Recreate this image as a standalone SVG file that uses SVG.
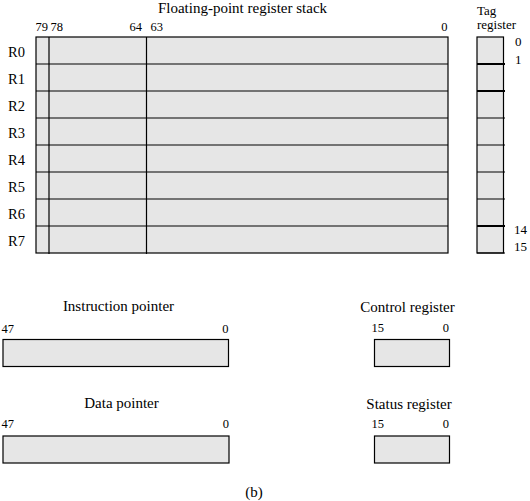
<svg xmlns="http://www.w3.org/2000/svg" width="530" height="501" viewBox="0 0 530 501">
<style>
text{font-family:"Liberation Serif","Times New Roman",serif;fill:#000}
.t{font-size:15px}
.n{font-size:12.5px}
.tn{font-size:13px}
.r{font-size:14.5px}
.box{fill:#e6e6e6;stroke:#000;stroke-width:1.2}
.ln{stroke:#000;stroke-width:1.2;fill:none}
.thk{stroke:#000;stroke-width:2;fill:none}
</style>
<rect width="530" height="501" fill="#fff"/>
<g id="fp-stack">
<text class="t" x="242.5" y="12.5" text-anchor="middle">Floating-point register stack</text>
<text class="n" x="35.5" y="30.5">79</text>
<text class="n" x="50.5" y="30.5">78</text>
<text class="n" x="142" y="30.5" text-anchor="end">64</text>
<text class="n" x="150.5" y="30.5">63</text>
<text class="n" x="447.5" y="30.5" text-anchor="end">0</text>
<rect class="box" x="36" y="37" width="412" height="216"/>
<path class="ln" d="M36 64H448M36 91H448M36 118H448M36 145H448M36 172H448M36 199H448M36 226H448M49 37V254M146.5 37V254"/>
<text class="r" x="8" y="56.5">R0</text>
<text class="r" x="8" y="83.5">R1</text>
<text class="r" x="8" y="110.5">R2</text>
<text class="r" x="8" y="137.5">R3</text>
<text class="r" x="8" y="164.5">R4</text>
<text class="r" x="8" y="191.5">R5</text>
<text class="r" x="8" y="218.5">R6</text>
<text class="r" x="8" y="245.5">R7</text>
</g>
<g id="tag-register">
<text class="tn" x="477" y="14.5">Tag</text>
<text class="tn" x="477" y="28.5">register</text>
<rect class="box" x="477" y="37" width="26.5" height="216"/>
<path class="ln" d="M477 118H505M477 145H505M477 172H505M477 199H505M477 253H505"/>
<path class="thk" d="M477 64H505M477 91H505M477 226H505"/>
<text class="tn" x="515" y="45.5">0</text>
<text class="tn" x="515" y="63.5">1</text>
<text class="tn" x="514" y="233.5">14</text>
<text class="tn" x="514" y="250.5">15</text>
</g>
<g id="instruction-pointer">
<text class="t" x="118.5" y="311" text-anchor="middle">Instruction pointer</text>
<text class="n" x="1.5" y="332.5">47</text>
<text class="n" x="228.5" y="332.5" text-anchor="end">0</text>
<rect class="box" x="3" y="339.5" width="225.5" height="27"/>
</g>
<g id="control-register">
<text class="t" x="407.5" y="312" text-anchor="middle">Control register</text>
<text class="n" x="371.5" y="332">15</text>
<text class="n" x="449" y="332" text-anchor="end">0</text>
<rect class="box" x="374.5" y="339.5" width="75" height="27"/>
</g>
<g id="data-pointer">
<text class="t" x="121.5" y="408" text-anchor="middle">Data pointer</text>
<text class="n" x="1.5" y="428">47</text>
<text class="n" x="229" y="428" text-anchor="end">0</text>
<rect class="box" x="3" y="436" width="226" height="27"/>
</g>
<g id="status-register">
<text class="t" x="409" y="408.5" text-anchor="middle">Status register</text>
<text class="n" x="371.5" y="428">15</text>
<text class="n" x="449" y="428" text-anchor="end">0</text>
<rect class="box" x="374.5" y="436" width="75" height="27"/>
</g>
<g id="connectors"></g>
<text class="t" x="254" y="497" text-anchor="middle">(b)</text>
</svg>
